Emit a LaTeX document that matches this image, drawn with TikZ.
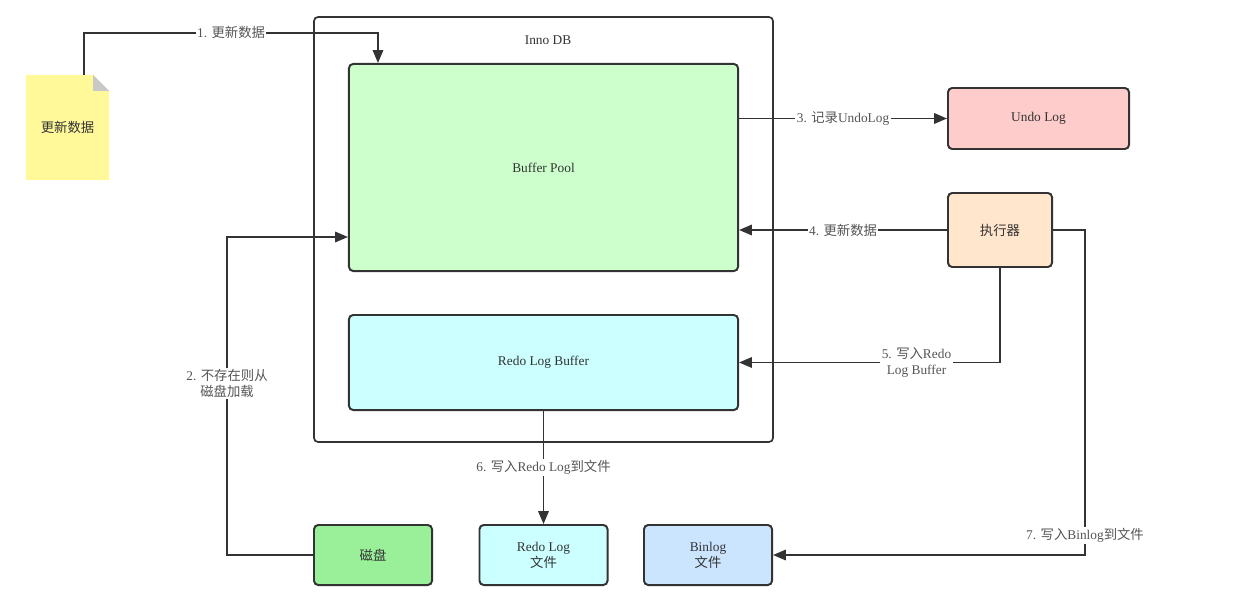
\documentclass[tikz,border=0pt]{standalone}
\usepackage{fontspec}
\setmainfont{Liberation Serif}
\newfontfamily\cjk{Noto Sans CJK SC}
\usetikzlibrary{arrows.meta,positioning,calc}

\definecolor{linegray}{HTML}{333333}
\definecolor{textgray}{HTML}{333333}
\definecolor{lblgray}{HTML}{555555}
\definecolor{bpfill}{HTML}{CCFFCC}
\definecolor{redofill}{HTML}{CCFFFF}
\definecolor{undofill}{HTML}{FFCCCC}
\definecolor{execfill}{HTML}{FFE6CC}
\definecolor{diskfill}{HTML}{99F099}
\definecolor{binfill}{HTML}{CCE5FF}
\definecolor{notefill}{HTML}{FFF99A}
\definecolor{foldgray}{HTML}{C8C8C8}
\newcommand\fsz{\fontsize{9.5}{11.5}\selectfont}

\begin{document}
\begin{tikzpicture}[x=0.025cm, y=-0.025cm,
  box/.style={draw=linegray, line width=1.4pt, rounded corners=3pt, align=center,
              font=\fsz, text=textgray, inner sep=0pt},
  arr/.style={-{Triangle[length=0.32cm,width=0.26cm]}, draw=linegray, line width=1.3pt},
  lbl/.style={font=\fsz, text=lblgray, fill=white, inner sep=1pt, align=center},
  notebox/.style={minimum width=2.075cm, minimum height=2.625cm, inner sep=0pt,
              fill=white, font=\fsz, text=textgray,
    path picture={
      \fill[notefill] (path picture bounding box.south west) -- (path picture bounding box.north west)
        -- ([xshift=-0.4cm]path picture bounding box.north east)
        -- ([yshift=-0.4cm]path picture bounding box.north east)
        -- (path picture bounding box.south east) -- cycle;
      \fill[foldgray] ([xshift=-0.4cm]path picture bounding box.north east)
        -- ([xshift=-0.4cm,yshift=-0.4cm]path picture bounding box.north east)
        -- ([yshift=-0.4cm]path picture bounding box.north east) -- cycle;
    }},
]
\useasboundingbox (0,0) rectangle (1253,611);

% InnoDB frame
\node[box, fill=white, line width=1.2pt, minimum width=11.475cm, minimum height=10.625cm] (innodb) at (543.5,229.5) {};
\node[font=\fsz, text=textgray] (innolbl) at (548,40) {Inno DB};
\node[box, fill=bpfill, minimum width=9.725cm, minimum height=5.175cm] (bp) at (543.5,167.5) {Buffer Pool};
\node[box, fill=redofill, minimum width=9.725cm, minimum height=2.375cm] (rlb) at (543.5,362.5) {Redo Log Buffer};

% outside
\node[notebox] (note) at (67.5,127.5) {\cjk 更新数据};
\node[box, fill=undofill, minimum width=4.525cm, minimum height=1.525cm] (undo) at (1038.5,118.5) {Undo Log};
\node[box, fill=execfill, minimum width=2.6cm, minimum height=1.85cm] (exec) at (1000,230) {\cjk 执行器};
\node[box, fill=diskfill, minimum width=2.95cm, minimum height=1.5cm] (disk) at (373,555) {\cjk 磁盘};
\node[box, fill=redofill, minimum width=3.2cm, minimum height=1.5cm] (rlf) at (543.5,555) {Redo Log\\{\cjk 文件}};
\node[box, fill=binfill, minimum width=3.2cm, minimum height=1.5cm] (binlog) at (708,555) {Binlog\\{\cjk 文件}};

% steps
\draw[arr] ($(note.north west)!0.7!(note.north east)$) -- ++(0,-42)
  -| node[lbl, pos=0.25] {1. {\cjk 更新数据}} ([xshift=0.75cm]bp.north west);
\draw[arr] (disk.west) -- ++(-86,0)
  |- node[lbl, pos=0.27] {2. {\cjk 不存在则从}\\{\cjk 磁盘加载}} ([yshift=0.875cm]bp.south west);
\draw[arr] (bp.east |- undo.west) -- node[lbl] {3. {\cjk 记录}UndoLog} (undo.west);
\draw[arr] (exec.west) -- node[lbl] {4. {\cjk 更新数据}} (bp.east |- exec.west);
\draw[arr] (exec.south) |- node[lbl, pos=0.66] {5. {\cjk 写入}Redo\\Log Buffer} (rlb.east);
\draw[arr] (rlb.south) -- node[lbl] {6. {\cjk 写入}Redo Log{\cjk 到文件}} (rlf.north);
\draw[arr] (exec.east) -- ++(32,0)
  |- node[lbl, pos=0.47] {7. {\cjk 写入}Binlog{\cjk 到文件}} (binlog.east);
\end{tikzpicture}
\end{document}
